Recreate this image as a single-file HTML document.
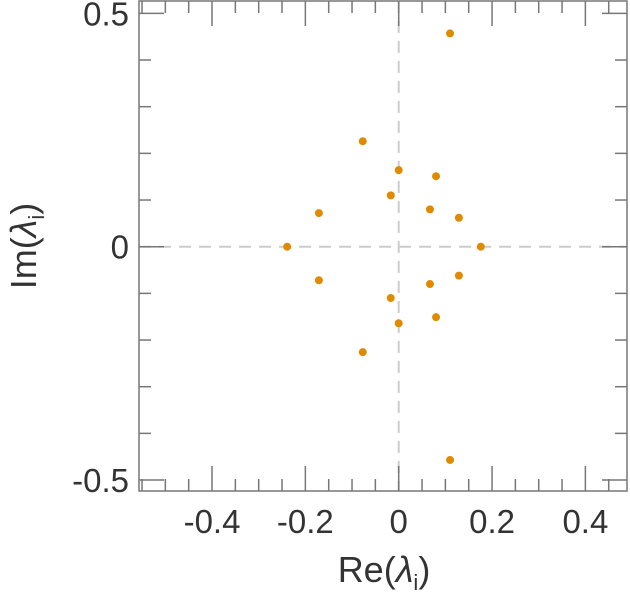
<!DOCTYPE html>
<html><head><meta charset="utf-8"><style>
html,body{margin:0;padding:0;background:#fff;}
svg{display:block;font-family:"Liberation Sans",sans-serif;}
</style></head><body>
<svg id="chart" width="630" height="600">
<g id="axes"></g>
<g id="pts"></g>
<text x="384" y="582" font-size="36" fill="#333" text-anchor="middle">Re(<tspan font-style="italic">λ</tspan><tspan font-size="22" dy="8">i</tspan><tspan dy="-8">)</tspan></text>
<text transform="translate(36,246) rotate(-90)" font-size="36" fill="#333" text-anchor="middle">Im(<tspan font-style="italic">λ</tspan><tspan font-size="22" dy="8">i</tspan><tspan dy="-8">)</tspan></text>
</svg>
<script>
const reVals=[0.11,-0.077,0,0.08,-0.017,0.067,0.129,-0.171,-0.239,0.176,0.11,-0.077,0,0.08,-0.017,0.067,0.129,-0.171];
const imVals=[0.457,0.226,0.164,0.151,0.11,0.08,0.062,0.072,0,0,-0.457,-0.226,-0.164,-0.151,-0.11,-0.08,-0.062,-0.072];
const xTickLabels=["-0.4","-0.2","0","0.2","0.4"];
const xTickVals=[-0.4,-0.2,0,0.2,0.4];
const yTickLabels=["0.5","0","-0.5"];
const yTickVals=[0.5,0,-0.5];
const NS="http://www.w3.org/2000/svg";
const L=139,R=627,T=1,B=491;
const sx=v=>398.7+v*466.7, sy=v=>246.7-v*466.7;
const ax=document.getElementById('axes'), pg=document.getElementById('pts');
function mk(tag,at,parent){const e=document.createElementNS(NS,tag);for(const k in at)e.setAttribute(k,at[k]);parent.appendChild(e);return e;}
let z1=mk('line',{x1:sx(0),x2:sx(0),y1:T,y2:B,stroke:'#ccc','stroke-width':2,'stroke-dasharray':'12,8'},ax);


let z2=mk('line',{x1:L,x2:R,y1:sy(0),y2:sy(0),stroke:'#ccc','stroke-width':2,'stroke-dasharray':'12,8'},ax);


let fr=mk('rect',{x:L,y:T,width:R-L,height:B-T,fill:'none',stroke:'#777','stroke-width':1.5},ax);


for(let i=-11;i<=9;i++){const v=i*0.05;const x=sx(v);if(x<L||x>R)continue;const maj=(i%4===0);const len=maj?25:12;
 mk('line',{x1:x,x2:x,y1:B,y2:B-len,stroke:'#777','stroke-width':1.5},ax);
 mk('line',{x1:x,x2:x,y1:T,y2:T+len,stroke:'#777','stroke-width':1.5},ax);}
for(let i=-5;i<=5;i++){const v=i*0.1;const y=sy(v);const maj=(i%5===0);const len=maj?25:12;
 mk('line',{x1:L,x2:L+len,y1:y,y2:y,stroke:'#777','stroke-width':1.5},ax);
 mk('line',{x1:R,x2:R-len,y1:y,y2:y,stroke:'#777','stroke-width':1.5},ax);}
xTickVals.forEach((v,i)=>{const t=mk('text',{x:sx(v),y:533,'font-size':33,fill:'#333','text-anchor':'middle'},ax);t.textContent=xTickLabels[i];
 
 });
yTickVals.forEach((v,i)=>{const t=mk('text',{x:129,y:sy(v)+12,'font-size':33,fill:'#333','text-anchor':'end'},ax);t.textContent=yTickLabels[i];
 
 });
reVals.forEach((v,i)=>{const c=mk('circle',{cx:sx(v),cy:sy(imVals[i]),r:4,fill:'#e08a00'},pg);
 
 });
</script>
</body></html>
